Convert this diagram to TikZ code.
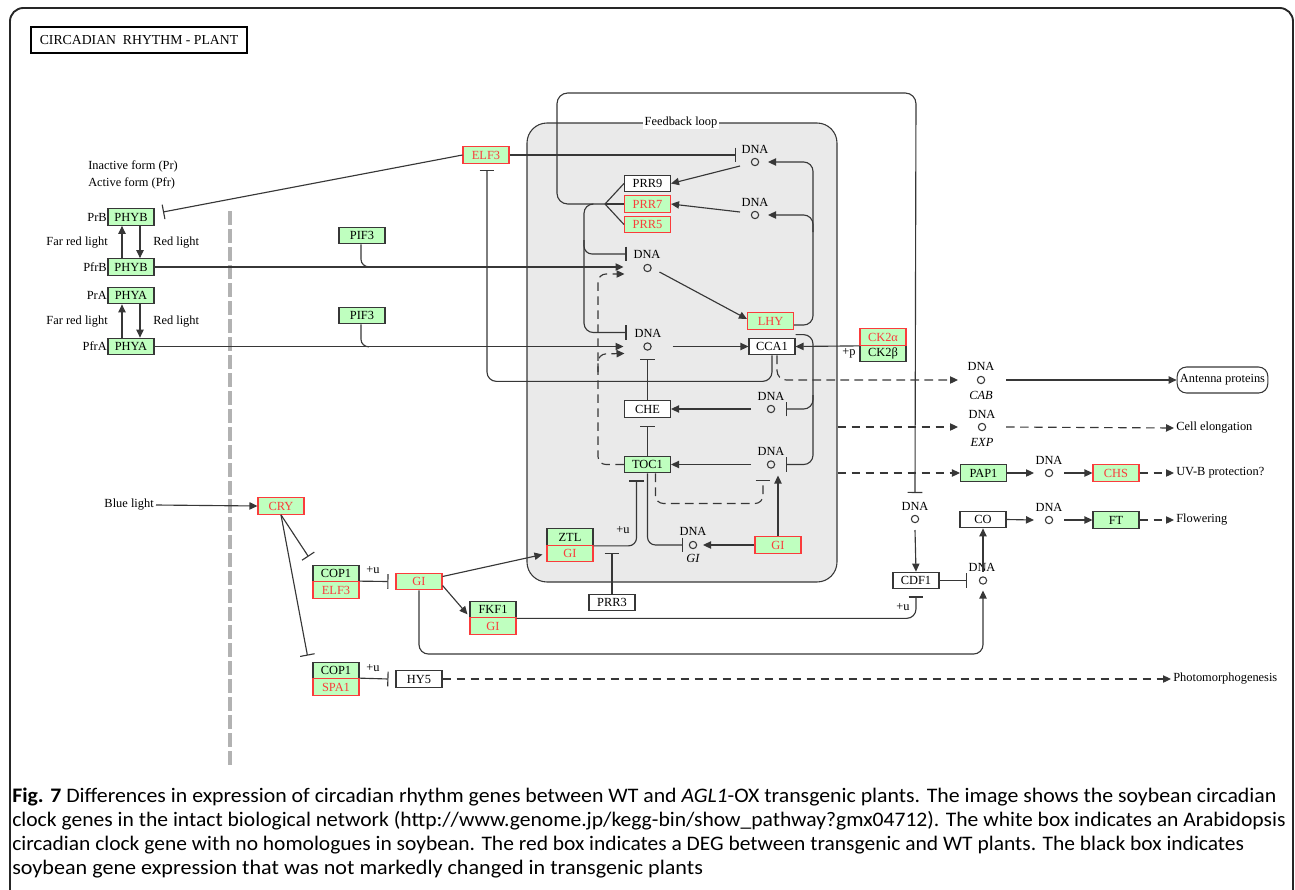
\documentclass[tikz,border=0pt]{standalone}
\usepackage{fontspec}
\usepackage{graphicx}
\setmainfont{Liberation Serif}
\newfontfamily\capfont{Carlito}
\usetikzlibrary{arrows.meta,calc}
\definecolor{kgreen}{RGB}{191,255,191}
\definecolor{kred}{RGB}{250,60,60}
\definecolor{lc}{RGB}{55,55,55}
\definecolor{boxg}{RGB}{234,234,234}
\newcommand\kfont{\fontsize{9.3}{10}\selectfont}
\tikzset{
 conn/.style={draw=lc, line width=0.85pt},
 act/.style={conn, -{Triangle[length=6pt,width=5.5pt]}},
 inh/.style={conn, -{Bar[width=11pt]}},
 dact/.style={act, dash pattern=on 6.5pt off 4pt},
 dinh/.style={inh, dash pattern=on 6.5pt off 4pt},
 gbox/.style={draw=lc, fill=kgreen, line width=0.8pt, minimum width=34.5pt, minimum height=12.5pt, inner sep=0pt, font=\kfont},
 rbox/.style={gbox, draw=kred, text=kred},
 wbox/.style={gbox, fill=white},
 dnac/.style={circle, draw=lc, line width=0.8pt, minimum size=5.5pt, inner sep=0pt},
 lbl/.style={inner sep=0pt, font=\kfont},
 ilbl/.style={inner sep=0pt, font=\kfont\itshape},
 endlbl/.style={inner xsep=1.5pt, inner ysep=0pt, font=\kfont, anchor=west},
 captxt/.style={anchor=base west, inner sep=0pt},
}
\newcommand\capsize{\capfont\fontsize{15.5}{18}\selectfont}
\begin{document}
\begin{tikzpicture}[x=0.75pt,y=-0.75pt]
\useasboundingbox (0,0) rectangle (1295,889);
\draw[line width=1.4pt, draw=black!85, rounded corners=10pt] (10,8) rectangle (1293,905);
\node[draw, line width=1.5pt, minimum width=162pt, minimum height=19.5pt, inner sep=0pt, font=\fontsize{10.3}{11}\selectfont] (tt) at (139,40) {CIRCADIAN\ \ RHYTHM - PLANT};

% divider
\draw[draw=black!30, line width=3.6pt, dash pattern=on 10.5pt off 3pt] (230,211) -- (230,765);

% feedback loop box
\node[draw=lc, fill=boxg, line width=0.8pt, rounded corners=15pt, minimum width=232.5pt, minimum height=344.25pt, inner sep=0pt] (fb) at (682,352.5) {};
\node[lbl, fill=white, inner xsep=1pt] (fbl) at (681,123) {Feedback loop};

% phytochromes
\node[gbox] (phybr) at (131,217) {PHYB};
\node[gbox] (phybf) at (131,267) {PHYB};
\node[gbox] (phyar) at (131,295.5) {PHYA};
\node[gbox] (phyaf) at (131,346.5) {PHYA};
\node[lbl, anchor=east] (lprb) at (107,217) {PrB};
\node[lbl, anchor=east] (lpfrb) at (107,267) {PfrB};
\node[lbl, anchor=east] (lfrb) at (108,243) {Far red light};
\node[lbl, anchor=west] (lrb) at (153,243) {Red light};
\node[lbl, anchor=east] (lpra) at (107,295.5) {PrA};
\node[lbl, anchor=east] (lpfra) at (107,346.5) {PfrA};
\node[lbl, anchor=east] (lfra) at (108,322) {Far red light};
\node[lbl, anchor=west] (lra) at (153,322) {Red light};
\node[lbl, anchor=west] (linact) at (88,166) {Inactive form (Pr)};
\node[lbl, anchor=west] (lact) at (88,183) {Active form (Pfr)};
\draw[act] ($(phybf.north)+(-9,0)$) -- ($(phybr.south)+(-9,0)$);
\draw[act] ($(phybr.south)+(9,0)$) -- ($(phybf.north)+(9,0)$);
\draw[act] ($(phyaf.north)+(-9,0)$) -- ($(phyar.south)+(-9,0)$);
\draw[act] ($(phyar.south)+(9,0)$) -- ($(phyaf.north)+(9,0)$);

\node[gbox] (pif3a) at (362,235.5) {PIF3};
\node[gbox] (pif3b) at (362,315.5) {PIF3};
\node[rbox] (elf3) at (486,155) {ELF3};
\coordinate (tphy) at (163,212);

% PRRs
\node[wbox] (prr9) at (647.5,183.5) {PRR9};
\node[rbox] (prr7) at (647.5,204) {PRR7};
\node[rbox] (prr5) at (647.5,224.5) {PRR5};
\coordinate (j) at (605,204);

% DNA nodes
\node[dnac] (dA) at (755,162) {}; \node[lbl] (dAl) at (755,149) {DNA};
\node[dnac] (dB) at (755,215) {}; \node[lbl] (dBl) at (755,202) {DNA};
\node[dnac] (dC) at (647.5,268) {}; \node[lbl] (dCl) at (647,254) {DNA};
\node[dnac] (dD) at (647.5,346.5) {}; \node[lbl] (dDl) at (648,333) {DNA};
\node[dnac] (dE) at (771,409) {}; \node[lbl] (dEl) at (771,396) {DNA};
\node[dnac] (dF) at (771,464.5) {}; \node[lbl] (dFl) at (771,451) {DNA};
\node[dnac] (dG) at (693,545) {}; \node[lbl] (dGl) at (693,531) {DNA}; \node[ilbl] (dGg) at (693,558) {GI};
\node[dnac] (dCAB) at (981,380) {}; \node[lbl] (dCABl) at (981,366) {DNA}; \node[ilbl] (dCABg) at (981,395) {CAB};
\node[dnac] (dEXP) at (982,427) {}; \node[lbl] (dEXPl) at (982,414) {DNA}; \node[ilbl] (dEXPg) at (982,442) {EXP};
\node[dnac] (dP) at (1049,473) {}; \node[lbl] (dPl) at (1049,460) {DNA};
\node[dnac] (dCO) at (1049,520) {}; \node[lbl] (dCOl) at (1049,507) {DNA};
\node[dnac] (dCD) at (915,519) {}; \node[lbl] (dCDl) at (915,506) {DNA};
\node[dnac] (dCO2) at (983,580.5) {}; \node[lbl] (dCO2l) at (982,567) {DNA};

% genes
\node[rbox] (lhy) at (770.5,321) {LHY};
\node[wbox] (cca1) at (772,346.5) {CCA1};
\node[wbox] (che) at (647.5,409) {CHE};
\node[gbox] (toc1) at (647.5,464.5) {TOC1};
\node[gbox] (ztl) at (570,537) {ZTL};
\node[rbox] (zgi) at (570,553.5) {GI};
\node[rbox] (gii) at (778,545) {GI};
\node[wbox] (prr3) at (612,602.5) {PRR3};
\node[gbox] (ck2b) at (883,353.5) {CK2β};
\node[rbox] (ck2a) at (883,337) {CK2α};
\node[rbox] (cry) at (281,506) {CRY};
\node[gbox] (cop1a) at (336,573.5) {COP1};
\node[rbox] (elf3b) at (336,590) {ELF3};
\node[rbox] (gi1) at (419,581.5) {GI};
\node[gbox] (fkf1) at (493,609.5) {FKF1};
\node[rbox] (fgi) at (493,626) {GI};
\node[gbox] (cop1b) at (336,670.5) {COP1};
\node[rbox] (spa1) at (336,687) {SPA1};
\node[wbox] (hy5) at (419,679) {HY5};
\node[gbox] (pap1) at (983.5,473) {PAP1};
\node[rbox] (chs) at (1116,473) {CHS};
\node[wbox] (co) at (983,519.5) {CO};
\node[gbox] (ft) at (1116,520) {FT};
\node[wbox] (cdf1) at (916,580.5) {CDF1};
\node[draw=lc, line width=0.8pt, rounded corners=7pt, minimum width=68pt, minimum height=19.5pt, inner sep=0pt, font=\kfont] (ant) at (1222.5,380) {Antenna proteins};

\node[endlbl] (cel) at (1174,428) {Cell elongation};
\node[endlbl] (uvb) at (1174,473) {UV-B protection?};
\node[endlbl] (flw) at (1174,520) {Flowering};
\node[endlbl] (pho) at (1171,679) {Photomorphogenesis};
\node[lbl, anchor=east, inner xsep=1.5pt] (blue) at (156,505) {Blue light};
\node[lbl] (pu1) at (373,570) {+u};
\node[lbl] (pu2) at (373,668) {+u};
\node[lbl] (pu3) at (623,530) {+u};
\node[lbl] (pu4) at (903,607) {+u};
\node[lbl] (pp) at (849,353) {+p};

% connectors - left
\draw[conn] ($(pif3a.south)+(-1,0)$) -- ++(0,15) to[out=-90,in=180] ++(8,7.5);
\draw[conn] ($(pif3b.south)+(-1,0)$) -- ++(0,15) to[out=-90,in=180] ++(8,7.5);
\draw[act] (phybf.east) -- ($(dC)+(-24,-1)$);
\draw[act] (phyaf.east) -- ($(dD)+(-24,0)$);
\draw[inh] (elf3.west) -- (tphy);
\draw[inh] (elf3.east) -- ($(dA)+(-19,-7)$);

% PRR junction and loops
\draw[conn] (prr9.west) -- (j);
\draw[conn] (prr7.west) -- (j);
\draw[conn] (prr5.west) -- (j);
\draw[inh, rounded corners=8pt] (j) -- (557,204) -- (557,93) -- (916,93) -- ($(dCD)+(0,-26)$);
\draw[inh, rounded corners=7pt] (593,204) -- (584,204) -- (584,332.5) -- ($(dD)+(-21,-14)$);
\draw[inh, rounded corners=6pt] (584,240) -- (584,254) -- ($(dC)+(-21,-14)$);
\draw[dact, rounded corners=6pt] (toc1.west) -| (598,274) -- ($(dC)+(-23,6)$);
\draw[dact, rounded corners=6pt] (598,372) -- (598,354) -- ($(dD)+(-23,7)$);
\draw[act] ($(dA)+(-15,4)$) -- (prr9.east);
\draw[act] ($(dB)+(-15,-3)$) -- (prr7.east);
\draw[act] ($(dC)+(12,4)$) -- ($(lhy.west)+(0,-2)$);
\draw[act] ($(dD)+(25,0)$) -- (cca1.west);
\draw[inh] (che.north) -- ($(dD)+(0,12)$);
\draw[inh] (toc1.north) -- ($(che.south)+(0,8)$);
\draw[act] ($(dE)+(-20,0)$) -- (che.east);
\draw[act] ($(dF)+(-20,0)$) -- (toc1.east);
\draw[act, rounded corners=7pt] ($(lhy.east)+(0,4)$) -| (813,162) -- ($(dA)+(13,0)$);
\draw[act, rounded corners=7pt] (813,232) |- ($(dB)+(13,0)$);
\draw[inh, rounded corners=7pt] ($(cca1.north east)+(0,-3)$) -| (813,464.5) -- ($(dF)+(15,0)$);
\draw[inh, rounded corners=7pt] (813,395) |- ($(dE)+(15,0)$);
\draw[inh, rounded corners=7pt] (cca1.south) -- ++(0,26) -| ($(elf3.south)+(1,6)$);
\draw[dact, rounded corners=7pt] ($(cca1.south)+(5,0)$) |- ($(dCAB)+(-23,0)$);
\draw[act] (ck2a.south west) -- (cca1.east);

% below TOC1
\draw[inh, rounded corners=6pt] (ztl.south east) -| ($(toc1.south)+(-11,7)$);
\draw[inh, rounded corners=6pt] (toc1.south) |- ($(dG)+(-10,0)$);
\draw[dinh, rounded corners=6pt] ($(toc1.south)+(8,0)$) |- ($(dF)+(-8,39)$) -- ($(dF)+(-8,15)$);
\draw[act] (gii.west) -- ($(dG)+(10,0)$);
\draw[act] (gii.north) -- ($(dF)+(7,11)$);
\draw[inh] (prr3.north) -- ($(prr3.north)+(0,-41)$);

% left lower
\draw[act] (blue.east) -- (cry.west);
\draw[inh] (cry.south) -- ($(cop1a.north west)+(-4,-8)$);
\draw[inh] (cry.south) -- ($(cop1b.north west)+(-5,-6)$);
\draw[inh] (elf3b.north east) -- ($(gi1.west)+(-7,0)$);
\draw[inh] (spa1.north east) -- ($(hy5.west)+(-7,0)$);
\draw[act] ($(gi1.east)+(0,-5)$) -- ($(zgi.west)+(-4,1)$);
\draw[act] ($(gi1.east)+(0,4)$) -- ($(fkf1.south west)+(-2,-4)$);
\draw[act, rounded corners=7pt] (gi1.south) |- ($(dCO2)+(0,73.5)$) -- ($(dCO2)+(0,10)$);
\draw[inh, rounded corners=7pt] (fkf1.south east) -| ($(cdf1.south)+(0,7)$);
\draw[dact] (hy5.east) -- (pho.west);

% right side
\draw[act] ($(dCD)+(0,11)$) -- (cdf1.north);
\draw[inh] (cdf1.east) -- ($(dCO2)+(-16,0)$);
\draw[act] ($(dCO2)+(0,-9)$) -- (co.south);
\draw[act] ($(dCAB)+(25,0)$) -- (ant.west);
\draw[dact] (fb.east |- dEXP) -- ($(dEXP)+(-24,0)$);
\draw[dact] ($(dEXP)+(24,0)$) -- (cel.west);
\draw[dact] (fb.east |- pap1) -- (pap1.west);
\draw[act] (pap1.east) -- ($(dP)+(-15,0)$);
\draw[act] ($(dP)+(15,0)$) -- (chs.west);
\draw[dact] (chs.east) -- (uvb.west);
\draw[act] (co.east) -- ($(dCO)+(-15,0)$);
\draw[act] ($(dCO)+(15,0)$) -- (ft.west);
\draw[dact] (ft.east) -- (flw.west);

% caption
\node[captxt] (cap1) at (12,802) {\resizebox{948pt}{\height}{\capsize\textbf{Fig. 7} Differences in expression of circadian rhythm genes between WT and \textit{AGL1}-OX transgenic plants. The image shows the soybean circadian}};
\node[captxt] (cap2) at (12,826) {\resizebox{955pt}{\height}{\capsize clock genes in the intact biological network (http://www.genome.jp/kegg-bin/show\_pathway?gmx04712). The white box indicates an Arabidopsis}};
\node[captxt] (cap3) at (12,850) {\resizebox{924pt}{\height}{\capsize circadian clock gene with no homologues in soybean. The red box indicates a DEG between transgenic and WT plants. The black box indicates}};
\node[captxt] (cap4) at (12,874) {\resizebox{518pt}{\height}{\capsize soybean gene expression that was not markedly changed in transgenic plants}};
\end{tikzpicture}
\end{document}
